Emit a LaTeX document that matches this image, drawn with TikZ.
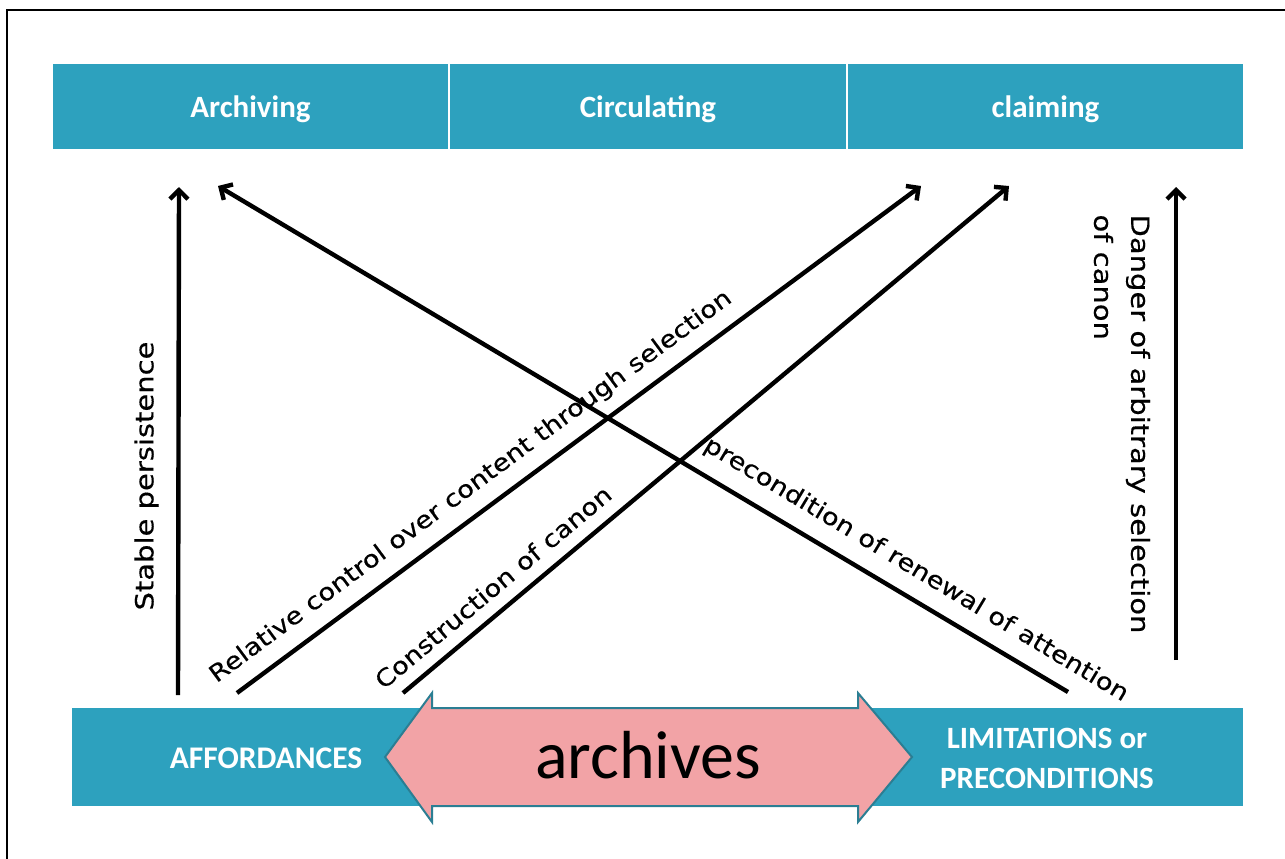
\documentclass[tikz,border=0pt]{standalone}
\usepackage{fontspec}
\setmainfont{Carlito}
\newfontfamily\lblfont[FakeStretch=1.16,FakeBold=0.35]{DejaVu Sans}
\usetikzlibrary{arrows.meta}
\definecolor{barteal}{HTML}{2DA1BE}
\definecolor{arrowpink}{HTML}{F2A3A6}
\definecolor{arrowedge}{HTML}{2B7E93}

\begin{document}
\begin{tikzpicture}[x=1pt,y=-1pt,
  cell/.style={fill=barteal, draw=white, line width=1.2pt, minimum width=397pt,
    minimum height=87pt, inner sep=0pt, text=white, text depth=0pt,
    font=\bfseries\fontsize{31}{36}\selectfont},
  bartext/.style={text=white, align=center, inner sep=0pt,
    font=\bfseries\fontsize{31}{40}\selectfont},
  link/.style={line width=4.4pt, -{Straight Barb[length=9pt,width=18pt]}},
  lbl/.style={font=\lblfont\fontsize{25}{37}\selectfont, inner sep=0pt},
  slopelbl/.style={font=\lblfont\fontsize{23.5}{30}\selectfont, inner sep=0pt}]

\useasboundingbox (0,0) rectangle (1285,859);

% frame lines along the left and top edges
\draw[line width=2.6pt] (7,859) -- (7,10) -- (1285,10);

% top row of activities
\node[cell] (archiving)   at (250.5,106.5) {Archiving};
\node[cell] (circulating) at (648,106.5)   {Circulating};
\node[cell] (claiming)    at (1045.5,106.5) {claiming};

% bottom bar
\fill[barteal] (72,708) rectangle (1243,806);
\node[bartext] (afford) at (266,758) {\fontsize{31.5}{40}\selectfont AFFORDANCES};
\node[bartext] (limits) at (1047,758) {LIMITATIONS or\\PRECONDITIONS};

% double-headed arrow in the middle of the bottom bar
\draw[fill=arrowpink, draw=arrowedge, line width=2pt, line join=miter]
  (385,757) -- (432,693) -- (432,708) -- (858,708) -- (858,693) -- (912,757)
  -- (858,822) -- (858,806) -- (432,806) -- (432,822) -- cycle;
\node[inner sep=0pt, font=\fontsize{68}{80}\selectfont] (arch) at (648,755) {archives};

% connector end points
\coordinate (sA) at (178,695);  \coordinate (tA) at (179,187);
\coordinate (sB) at (1068,692); \coordinate (tB) at (218,186);
\coordinate (sC) at (237,693);  \coordinate (tC) at (921,186);
\coordinate (sD) at (403,693);  \coordinate (tD) at (1009,186);
\coordinate (sE) at (1176,660); \coordinate (tE) at (1176,187);

\draw[link] (sA) -- (tA);
\draw[link] (sB) -- (tB);
\draw[link] (sC) -- (tC);
\draw[link] (sD) -- (tD);
\draw[link] (sE) -- (tE);

% labels along the connectors
\node[lbl, rotate=90]   (lA) at (146.5,476) {Stable persistence};
\node[slopelbl, rotate=36.5] (lC) at (471,487)   {Relative control over content through selection};
\node[slopelbl, rotate=40]   (lD) at (493,587)   {Construction of canon};
\node[slopelbl, rotate=-31]  (lB) at (916,570)   {precondition of renewal of attention};
\node[lbl, rotate=-90, align=left] (lE) at (1122,424)
  {Danger of arbitrary selection\\of canon};

\end{tikzpicture}
\end{document}
